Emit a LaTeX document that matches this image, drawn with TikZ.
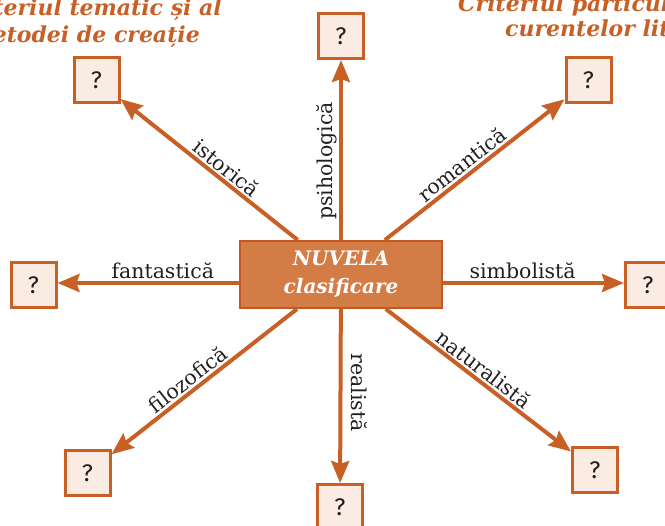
\documentclass[tikz,border=0pt]{standalone}
\usepackage{fontspec}
\setmainfont{DejaVu Serif}
\newfontfamily\qfont{Fira Sans}
\usetikzlibrary{arrows.meta}
\definecolor{org}{RGB}{200,96,38}
\definecolor{orgdark}{RGB}{196,88,32}
\definecolor{orgfill}{RGB}{212,124,70}
\definecolor{pale}{RGB}{250,236,226}
\definecolor{ink}{RGB}{35,31,32}
\tikzset{
  arr/.style={draw=org, line width=4pt, -{Stealth[length=22pt,width=18pt,inset=3pt]}},
  qbox/.style={draw=org, fill=pale, line width=3pt, minimum size=45pt, inner sep=0pt,
    font=\qfont\fontsize{24}{28}\selectfont, text=ink},
  centerbox/.style={draw=orgdark, fill=orgfill, line width=2pt, minimum width=202pt,
    minimum height=67pt, inner sep=0pt, align=center, text=white,
    font=\bfseries\itshape\fontsize{20}{28}\selectfont},
  lab/.style={sloped, above, inner sep=2pt, text=ink, font=\fontsize{20.5}{24}\selectfont},
  ttl/.style={inner sep=0pt, text=org, font=\bfseries\itshape\fontsize{22}{26}\selectfont}
}
\begin{document}
\begin{tikzpicture}[x=1pt,y=-1pt]
\useasboundingbox (0,0) rectangle (665,526);
\clip (0,0) rectangle (665,526);
% titles
\node[ttl, anchor=base east] (t1a) at (222,16) {Criteriul tematic și al};
\node[ttl, anchor=base east] (t1b) at (200,43) {metodei de creație};
\node[ttl, anchor=base west] (t2a) at (458,12) {Criteriul particularităților};
\node[ttl, anchor=base west] (t2b) at (505,37) {curentelor literare};
% center
\node[centerbox] (c) at (341,274.5) {NUVELA\\clasificare};
% boxes
\node[qbox] (t)  at (341,36)  {?};
\node[qbox] (b)  at (340,507) {?};
\node[qbox] (l)  at (33.5,285.5) {?};
\node[qbox] (r)  at (648,285.5) {?};
\node[qbox] (tl) at (96.5,80) {?};
\node[qbox] (tr) at (588.5,80.5) {?};
\node[qbox] (bl) at (87.5,473) {?};
\node[qbox] (br) at (595,470) {?};
% arrows
\draw[arr] (c) -- node[lab, pos=0.44] {psihologică} (t);
\draw[arr] (c) -- node[lab, allow upside down, above=7pt, pos=0.48] {realistă} (b);
\draw[arr] (c.west |- 0,283) -- node[lab, pos=0.42] {fantastică} (l.east |- 0,283);
\draw[arr] (c.east |- 0,283) -- node[lab, pos=0.44] {simbolistă} (r.west |- 0,283);
\draw[arr] (c) -- node[lab, pos=0.445] {istorică} (tl);
\draw[arr] (c) -- node[lab, pos=0.47] {romantică} (tr);
\draw[arr] (c) -- node[lab, pos=0.55] {filozofică} (bl);
\draw[arr] (c) -- node[lab, pos=0.49] {naturalistă} (br);
\end{tikzpicture}
\end{document}
